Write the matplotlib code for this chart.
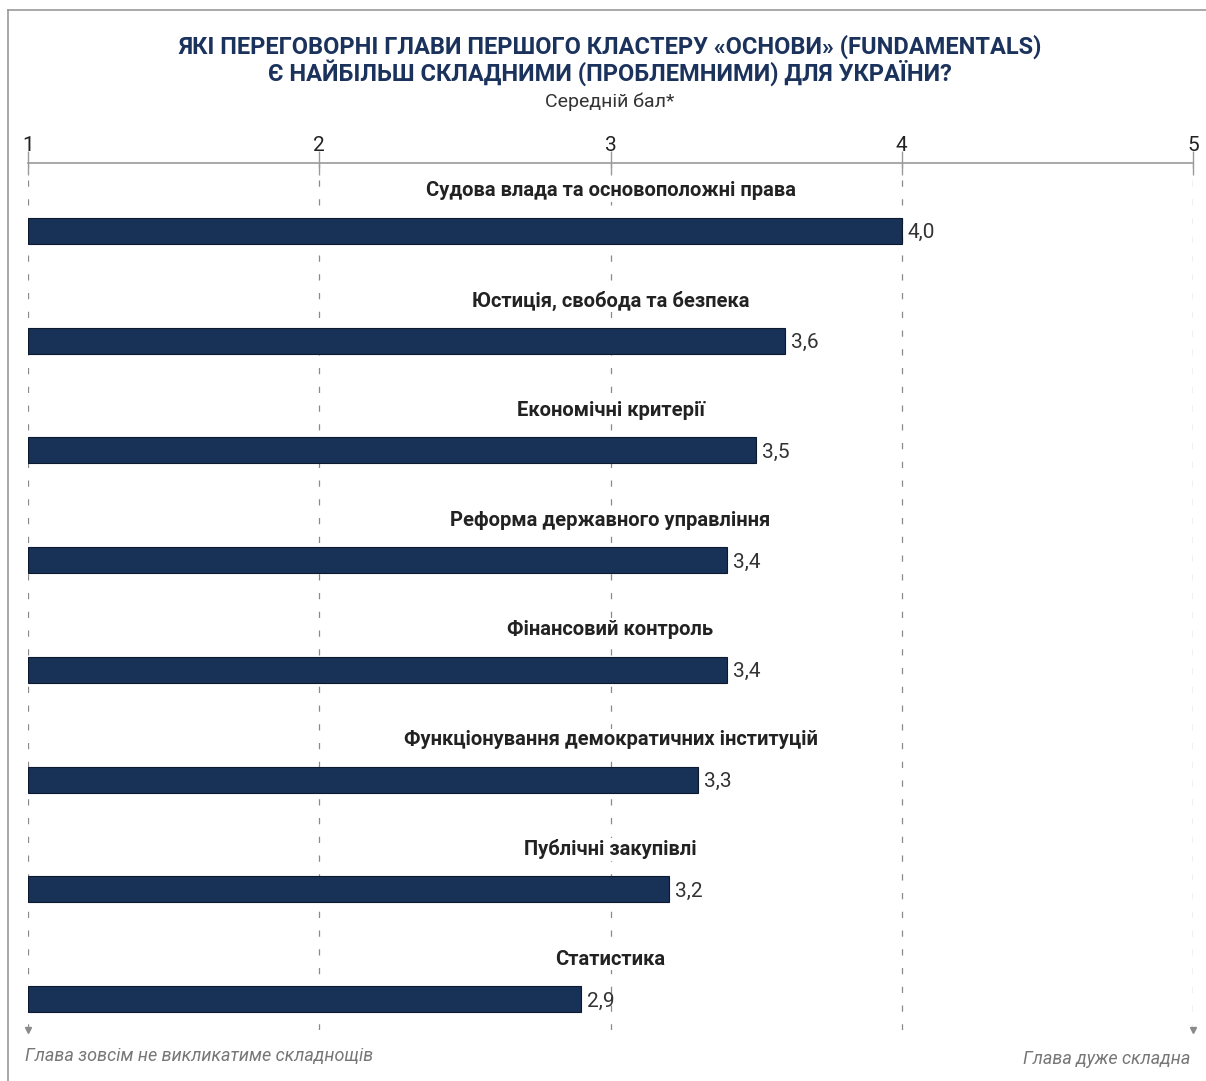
import matplotlib
matplotlib.use("Agg")
import matplotlib.pyplot as plt
from matplotlib.lines import Line2D

plt.rcParams['font.family'] = ['Roboto', 'DejaVu Sans']

# data
chapters = ["Судова влада та основоположні права",
            "Юстиція, свобода та безпека",
            "Економічні критерії",
            "Реформа державного управління",
            "Фінансовий контроль",
            "Функціонування демократичних інституцій",
            "Публічні закупівлі",
            "Статистика"]
scores = [4.0, 3.6, 3.5, 3.4, 3.4, 3.3, 3.2, 2.9]
ticks = [1, 2, 3, 4, 5]

navy = "#183157"
grey = "#8a8a8a"

W, H = 1206, 1081
fig = plt.figure(figsize=(W / 100, H / 100), dpi=100)

# axes: x from 1 (px 28) to 5 (px 1193), top at px 163, bottom at px 1030
ax = fig.add_axes([28 / W, 1 - 1030 / H, (1193 - 28) / W, (1030 - 163) / H])
n = len(chapters)
ax.set_xlim(1, 5)
ax.set_ylim(n - 1 + 31 / 110, -68 / 110)

ypos = list(range(n))
ax.barh(ypos, [s - 1 for s in scores], left=1, height=26 / 110,
        color=navy, edgecolor="#0d1a2e", linewidth=0.8, zorder=3)

for y, name, s in zip(ypos, chapters, scores):
    ax.text(3, y - 40 / 110, name, ha="center", va="center",
            fontsize=14.5, fontweight="bold", color="#222222", zorder=4,
            bbox=dict(facecolor="white", edgecolor="none", pad=1))
    ax.text(s + 0.02, y, f"{s:.1f}".replace(".", ","), ha="left",
            va="center_baseline", fontsize=15, color="#333333")

# dashed vertical gridlines
for t in ticks:
    ax.axvline(t, color=grey, lw=0.9, linestyle=(0, (5, 10)), zorder=1)
ax.plot([1, 5], [n - 1 + 31 / 110] * 2, linestyle="none", marker="v",
        markersize=4, color=grey, clip_on=False, zorder=4)

for side in ["left", "right", "bottom"]:
    ax.spines[side].set_visible(False)
ax.spines["top"].set_color("#9a9a9a")
ax.spines["top"].set_linewidth(1.2)
ax.xaxis.tick_top()
ax.set_xticks(ticks)
ax.set_xticklabels([str(t) for t in ticks])
ax.tick_params(axis="x", direction="inout", length=17, width=1, color="#9a9a9a",
               pad=-3, labelsize=15, labelcolor="#222222")
ax.set_yticks([])

# titles
fig.text(610 / W, 1 - 47 / H, "ЯКІ ПЕРЕГОВОРНІ ГЛАВИ ПЕРШОГО КЛАСТЕРУ «ОСНОВИ» (FUNDAMENTALS)",
         ha="center", va="center", fontsize=17, fontweight="bold", color="#1b335c")
fig.text(610 / W, 1 - 73 / H, "Є НАЙБІЛЬШ СКЛАДНИМИ (ПРОБЛЕМНИМИ) ДЛЯ УКРАЇНИ?",
         ha="center", va="center", fontsize=17, fontweight="bold", color="#1b335c")
fig.text(610 / W, 1 - 102 / H, "Середній бал*", ha="center", va="center",
         fontsize=14, color="#333333")

# bottom notes
fig.text(25 / W, 1 - 1056 / H, "Глава зовсім не викликатиме складнощів",
         ha="left", va="center", fontsize=13, style="italic", color="#777777")
fig.text(1190 / W, 1 - 1059 / H, "Глава дуже складна",
         ha="right", va="center", fontsize=13, style="italic", color="#777777")

# frame lines (left and top)
fig.add_artist(Line2D([8 / W, 8 / W], [0, 1 - 10 / H], transform=fig.transFigure,
                      color="#9a9a9a", lw=1.2))
fig.add_artist(Line2D([8 / W, 1], [1 - 10 / H, 1 - 10 / H], transform=fig.transFigure,
                      color="#9a9a9a", lw=1.2))

fig.savefig("out.png", dpi=100)
